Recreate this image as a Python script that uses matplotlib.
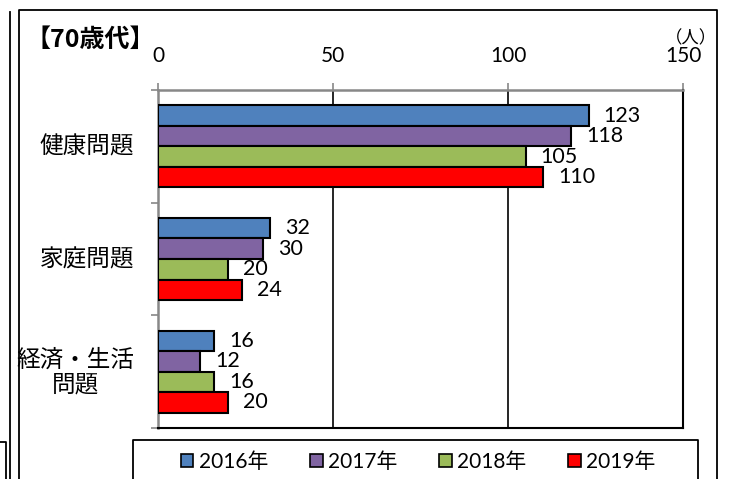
import matplotlib
matplotlib.use("Agg")
import matplotlib.pyplot as plt
from matplotlib.lines import Line2D
from matplotlib.patches import Patch
import numpy as np

plt.rcParams['font.family'] = ['Lato', 'Noto Sans CJK JP', 'DejaVu Sans']

title = "【70歳代】"
unit = "（人）"
categories = ["健康問題", "家庭問題", "経済・生活\n問題"]
years = ["2016年", "2017年", "2018年", "2019年"]
values = {
    "2016年": [123, 32, 16],
    "2017年": [118, 30, 12],
    "2018年": [105, 20, 16],
    "2019年": [110, 24, 20],
}
colors = ["#4F81BD", "#8064A2", "#9BBB59", "#FF0000"]
xticks = [0, 50, 100, 150]

W, H = 731, 479
fig = plt.figure(figsize=(W / 100, H / 100), dpi=100)

def fx(x):
    return x / W

def fy(y):
    return 1 - y / H

# axes in pixel coords: left 158, right 683, top 90, bottom 428
ax = fig.add_axes([fx(158), fy(428), fx(683) - fx(158), fy(90) - fy(428)])

n = len(years)
bh = 0.182
centers = np.arange(len(categories)) + 0.5
for i, yr in enumerate(years):
    pos = centers + (i - (n - 1) / 2) * bh
    ax.barh(pos, values[yr], height=bh, color=colors[i], edgecolor="black",
            linewidth=1.5, zorder=3)
    for p, v in zip(pos, values[yr]):
        ax.annotate(str(v), xy=(v, p), xytext=(15, 0), textcoords="offset pixels",
                    ha="left", va="center", fontsize=15.5, zorder=4)

ax.set_xlim(0, 150)
ax.set_ylim(len(categories), 0)
ax.xaxis.tick_top()
ax.set_xticks(xticks)
ax.set_xticklabels([str(t) for t in xticks], fontsize=15)
ax.tick_params(axis="x", which="major", length=5, width=1.2, color="#888888",
               direction="out", pad=12)
ax.set_yticks(np.arange(len(categories) + 1))
ax.set_yticklabels([])
ax.tick_params(axis="y", which="major", length=5, width=1.2, color="#888888",
               direction="out")
for v in [50, 100]:
    ax.axvline(v, color="black", lw=1.2, zorder=1)

for s in ["top", "left"]:
    ax.spines[s].set_color("#888888")
    ax.spines[s].set_linewidth(1.8)
for s in ["bottom", "right"]:
    ax.spines[s].set_color("black")
    ax.spines[s].set_linewidth(1.5)

for c, lab in zip(centers, categories):
    ax.annotate(lab, xy=(0, c), xycoords=("axes fraction", "data"),
                xytext=(-24, 0), textcoords="offset pixels",
                ha="right", va="center", ma="center", fontsize=17,
                linespacing=1.2)

fig.text(fx(26), fy(40), title, fontsize=18, fontweight="bold",
         ha="left", va="center", family=["Noto Sans CJK JP"])
fig.text(fx(691), fy(38), unit, fontsize=12.5, ha="center", va="center")

# frames
def line(xs, ys, lw=1.3, color="black"):
    fig.add_artist(Line2D([fx(x) for x in xs], [fy(y) for y in ys],
                          transform=fig.transFigure, color=color, lw=lw))

line([19, 19, 717, 717], [H + 5, 10, 10, H + 5])
line([10, 10], [12, H + 5])
line([0, 6, 6], [442, 442, H + 5])
line([133, 133, 698, 698], [H + 5, 440, 440, H + 5])

handles = [Patch(facecolor=c, edgecolor="black", linewidth=1.2) for c in colors]
fig.legend(handles, years, loc="center", bbox_to_anchor=(fx(418), fy(462)),
           ncol=4, frameon=False, fontsize=15, handlelength=0.62,
           handleheight=0.62, handletextpad=0.25, columnspacing=2.0,
           borderpad=0)

fig.savefig("out.png", dpi=100)
